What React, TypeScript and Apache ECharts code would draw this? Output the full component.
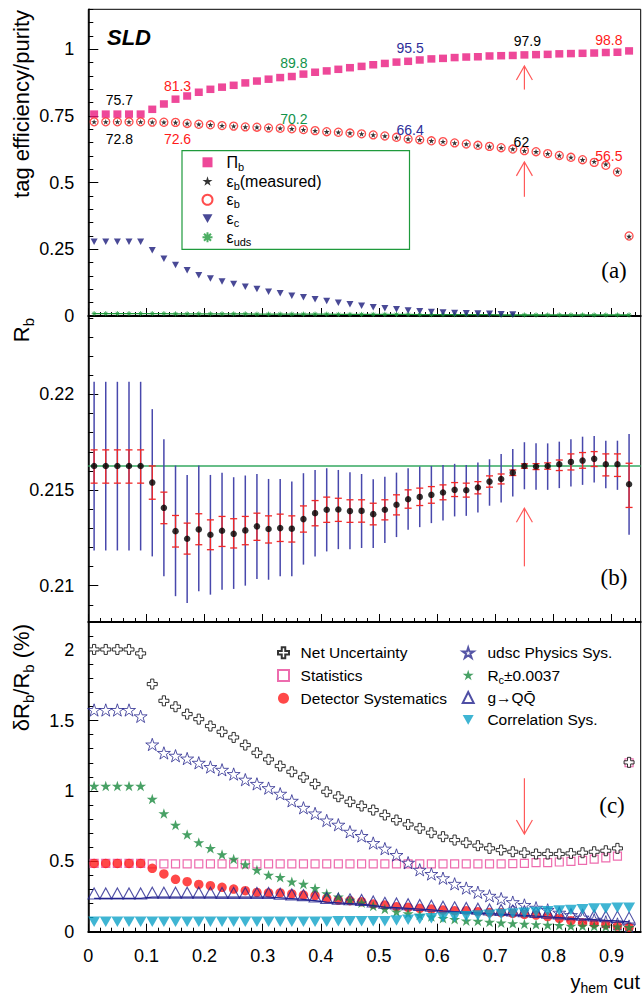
import React, { useEffect, useRef } from 'react';
import * as echarts from 'echarts';

// ---------- data ----------
const yhemCuts = [0.01,0.03,0.05,0.07,0.09,0.11,0.13,0.15,0.17,0.19,0.21,0.23,0.25,0.27,0.29,0.31,0.33,0.35,0.37,0.39,0.41,0.43,0.45,0.47,0.49,0.51,0.53,0.55,0.57,0.59,0.61,0.63,0.65,0.67,0.69,0.71,0.73,0.75,0.77,0.79,0.81,0.83,0.85,0.87,0.89,0.91,0.93];

// panel (a)
const purity = [0.757,0.757,0.757,0.757,0.757,0.775,0.795,0.813,0.825,0.839,0.850,0.858,0.865,0.874,0.881,0.888,0.894,0.898,0.907,0.914,0.919,0.925,0.931,0.936,0.942,0.947,0.952,0.955,0.960,0.964,0.966,0.969,0.971,0.972,0.975,0.976,0.977,0.979,0.980,0.981,0.983,0.984,0.985,0.986,0.988,0.989,0.994];
const effB = [0.728,0.728,0.728,0.728,0.728,0.727,0.7265,0.726,0.722,0.719,0.717,0.714,0.712,0.709,0.708,0.705,0.704,0.702,0.699,0.695,0.691,0.689,0.686,0.683,0.679,0.675,0.670,0.664,0.661,0.657,0.654,0.649,0.645,0.640,0.636,0.631,0.626,0.620,0.616,0.609,0.602,0.595,0.586,0.576,0.565,0.540,0.300];
const effBMeas = [0.728,0.728,0.728,0.728,0.728,0.727,0.7265,0.726,0.722,0.719,0.717,0.714,0.712,0.709,0.708,0.705,0.704,0.702,0.699,0.695,0.691,0.689,0.686,0.683,0.679,0.675,0.670,0.664,0.661,0.657,0.654,0.649,0.645,0.640,0.636,0.631,0.626,0.620,0.616,0.609,0.602,0.595,0.586,0.579,0.569,0.542,0.298];
const effC = [0.278,0.278,0.278,0.278,0.278,0.247,0.215,0.191,0.172,0.153,0.141,0.129,0.120,0.110,0.101,0.091,0.085,0.076,0.070,0.063,0.056,0.050,0.044,0.038,0.033,0.029,0.025,0.021,0.018,0.015,0.013,0.011,0.010,0.009,0.008,0.007,0.006];
const effUds = [0.009,0.009,0.009,0.009,0.009,0.009,0.009,0.008,0.008,0.008,0.008,0.008,0.008,0.008,0.007,0.007,0.007,0.007,0.007,0.007,0.007,0.006,0.006,0.006,0.006,0.006,0.006,0.006,0.005,0.005,0.005,0.005,0.005,0.005,0.005,0.004,0.004,0.004,0.004,0.004,0.004,0.004,0.004,0.004,0.004,0.004,0.004];
const annotIdx = [2, 7, 17, 27, 37, 44];
const purityLabels = ['75.7', '81.3', '89.8', '95.5', '97.9', '98.8'];
const effBLabels = ['72.8', '72.6', '70.2', '66.4', '62', '56.5'];

// panel (b)
const rbValue = [0.21626,0.21626,0.21626,0.21626,0.21626,0.21539,0.21407,0.21285,0.21245,0.21294,0.21266,0.21287,0.21271,0.21289,0.2131,0.21296,0.21301,0.21298,0.21348,0.21379,0.21397,0.21398,0.2139,0.21391,0.21374,0.21397,0.21423,0.21452,0.21464,0.21475,0.21487,0.21501,0.21499,0.21513,0.21544,0.21558,0.21591,0.21626,0.21623,0.21626,0.21635,0.21647,0.21654,0.21663,0.21635,0.21635,0.2153];
const rbStatHi = [0.2171,0.2171,0.2171,0.2171,0.2171,0.21626,0.21489,0.21367,0.21327,0.21376,0.21344,0.21362,0.2135,0.21362,0.21379,0.21365,0.21374,0.21365,0.21417,0.21445,0.21463,0.21457,0.21449,0.21449,0.21431,0.21449,0.21475,0.21501,0.2151,0.21518,0.21527,0.21539,0.21536,0.21544,0.21574,0.21584,0.21605,0.21637,0.21638,0.21642,0.21657,0.21689,0.21696,0.21701,0.21689,0.21689,0.2164];
const rbStatLo = [0.21536,0.21536,0.21536,0.21536,0.21536,0.21452,0.21324,0.21202,0.21165,0.21214,0.21188,0.21205,0.21197,0.21214,0.21237,0.21223,0.21231,0.21228,0.2128,0.21313,0.21331,0.21336,0.21331,0.21332,0.21318,0.21344,0.2137,0.21405,0.21419,0.21431,0.21449,0.21466,0.21463,0.2148,0.21515,0.21532,0.21576,0.21614,0.21607,0.21609,0.21602,0.21605,0.21614,0.21623,0.21574,0.21571,0.21409];
const rbTotHi = [0.22066,0.22066,0.22066,0.22066,0.22066,0.21923,0.21765,0.21628,0.21579,0.21628,0.21579,0.21591,0.21567,0.21576,0.21584,0.21558,0.21558,0.21544,0.21588,0.21605,0.21614,0.21605,0.21593,0.21584,0.21557,0.2157,0.21591,0.21614,0.21623,0.21626,0.21631,0.21637,0.21631,0.21644,0.21661,0.21689,0.21715,0.2175,0.21744,0.21744,0.21753,0.21765,0.21779,0.21783,0.21758,0.21758,0.21793];
const rbTotLo = [0.21184,0.21184,0.21184,0.21184,0.21184,0.21153,0.21049,0.20945,0.2091,0.20971,0.20953,0.20979,0.20983,0.21,0.21035,0.21031,0.21049,0.21049,0.2111,0.21153,0.21179,0.21191,0.21191,0.21197,0.21197,0.21223,0.21254,0.21292,0.21306,0.21327,0.21341,0.21362,0.21365,0.21383,0.21418,0.21435,0.21466,0.21504,0.21501,0.21501,0.2151,0.21518,0.21527,0.21539,0.2151,0.21501,0.21266];
const rbReferenceX = [0, 0.95];
const rbReferenceY = [0.21626, 0.21626];

// panel (c)
const netUnc = [2.005,2.005,2.005,2.005,1.977,1.759,1.64,1.598,1.546,1.51,1.461,1.42,1.38,1.326,1.271,1.224,1.177,1.136,1.096,1.049,0.994,0.959,0.923,0.893,0.864,0.829,0.793,0.762,0.734,0.703,0.675,0.651,0.632,0.611,0.592,0.58,0.568,0.561,0.552,0.552,0.552,0.556,0.561,0.568,0.575,0.592,1.203];
const statErr = [0.485,0.485,0.485,0.485,0.485,0.482,0.482,0.482,0.482,0.482,0.482,0.482,0.482,0.482,0.482,0.482,0.482,0.482,0.482,0.482,0.482,0.482,0.482,0.482,0.482,0.482,0.482,0.482,0.482,0.482,0.482,0.482,0.482,0.482,0.482,0.482,0.483,0.485,0.49,0.49,0.495,0.5,0.507,0.515,0.525,0.537,1.2];
const detSys = [0.485,0.485,0.485,0.485,0.485,0.45,0.41,0.372,0.355,0.336,0.327,0.315,0.303,0.291,0.279,0.275,0.275,0.268,0.26,0.256,0.237,0.225,0.22,0.213,0.196,0.189,0.178,0.173,0.166,0.161,0.154,0.149,0.149,0.142,0.137,0.135,0.13,0.123,0.118,0.107,0.095,0.078,0.064,0.059,0.052,0.04,0.031];
const rcSys = [1.035,1.035,1.035,1.035,1.035,0.942,0.84,0.758,0.691,0.634,0.592,0.549,0.516,0.478,0.438,0.402,0.386,0.355,0.339,0.308,0.272,0.249,0.225,0.206,0.182,0.161,0.142,0.13,0.118,0.107,0.095,0.088,0.078,0.076,0.069,0.064,0.059,0.054,0.052,0.047,0.045,0.04,0.04,0.038,0.036,0.036,0.031];
const udscSys = [1.575,1.575,1.575,1.575,1.53,1.33,1.27,1.25,1.23,1.2,1.17,1.15,1.12,1.08,1.05,1.02,0.98,0.93,0.88,0.84,0.79,0.76,0.71,0.68,0.63,0.59,0.545,0.49,0.44,0.41,0.38,0.34,0.31,0.28,0.255,0.235,0.21,0.19,0.17,0.155,0.135,0.118,0.1,0.085,0.07,0.055,0.04];
const gqqSys = [0.272,0.272,0.272,0.272,0.272,0.277,0.277,0.277,0.277,0.277,0.277,0.275,0.275,0.275,0.275,0.275,0.27,0.265,0.26,0.25,0.24,0.235,0.23,0.225,0.215,0.205,0.2,0.195,0.19,0.185,0.178,0.173,0.168,0.163,0.158,0.154,0.15,0.145,0.14,0.135,0.13,0.125,0.12,0.115,0.11,0.107,0.1];
const gqqLine = [0.237,0.237,0.237,0.237,0.237,0.245,0.245,0.245,0.245,0.245,0.245,0.245,0.245,0.245,0.245,0.245,0.24,0.235,0.23,0.22,0.21,0.205,0.2,0.195,0.185,0.175,0.17,0.165,0.16,0.155,0.148,0.143,0.138,0.133,0.128,0.124,0.12,0.115,0.11,0.105,0.1,0.095,0.09,0.085,0.08,0.077,0.07];
const corrSys = [0.07,0.07,0.07,0.07,0.07,0.07,0.07,0.07,0.07,0.07,0.07,0.07,0.07,0.07,0.07,0.07,0.07,0.07,0.07,0.07,0.07,0.075,0.075,0.075,0.075,0.075,0.08,0.085,0.09,0.095,0.1,0.105,0.11,0.115,0.12,0.125,0.13,0.135,0.14,0.145,0.15,0.155,0.16,0.165,0.165,0.17,0.17];

// arrows: [x, tail, tip]
const arrowsA = [[0.75, 0.849, 0.9375], [0.75, 0.447, 0.578]];
const arrowsB = [[0.75, 0.21101, 0.21405]];
const arrowsC = [[0.75, 1.09, 0.694]];

// tick labels
const xMajor = [0, 0.1, 0.2, 0.3, 0.4, 0.5, 0.6, 0.7, 0.8, 0.9];
const yMajorA = [0, 0.25, 0.5, 0.75, 1];
const yMajorB = [0.21, 0.215, 0.22];
const yMajorC = [0, 0.5, 1, 1.5, 2];

// ---------- styling ----------
const F = '"Liberation Sans", Arial, Helvetica, sans-serif';
const FS = '"Liberation Serif", "Times New Roman", serif';
const SYM_CROSS = 'path://M3.4,0L6.6,0L6.6,3.4L10,3.4L10,6.6L6.6,6.6L6.6,10L3.4,10L3.4,6.6L0,6.6L0,3.4L3.4,3.4Z';
const SYM_STAR = 'path://M50,0L61.2,34.5L97.6,34.5L68.2,55.9L79.4,90.5L50,69.1L20.6,90.5L31.8,55.9L2.4,34.5L38.8,34.5Z';
const SYM_AST = 'path://M5,0L5,10M0,5L10,5M1.5,1.5L8.5,8.5M8.5,1.5L1.5,8.5';
const SYM_DOWN = 'path://M0,0L10,0L5,8.7Z';
const labelColors = ['#000', '#ff1a1a', '#12934a', '#2e2e9a', '#000', '#ff1a1a'];
const purityOffsets = [[2, -14], [2, -13], [2, -14], [2, -13], [3, -14], [3, -13]];
const effBOffsets = [[2, 17], [2, 17], [2, -10], [2, -9], [-3, -9], [3, -9]];

const ticks = (a: number, b: number, step: number) => {
  const r: number[] = [];
  for (let k = 0; a + k * step <= b + 1e-9; k++) r.push(+(a + k * step).toFixed(5));
  return r;
};

const GRID_L = 88.3;
const GRID_W = 552.4;

function xAxes(gridIndex: number, showLabels: boolean) {
  return [
    {
      type: 'value', gridIndex, min: 0, max: 0.95, position: 'bottom',
      axisLine: { show: true, onZero: false, lineStyle: { color: '#000', width: 2 } },
      axisTick: { show: true, inside: true, length: 8, customValues: xMajor, lineStyle: { color: '#000', width: 1 } },
      axisLabel: { show: showLabels, customValues: xMajor, fontFamily: F, fontSize: 18, color: '#000', margin: 15,
        formatter: (v: number) => String(+(+v).toFixed(4)) },
      splitLine: { show: false },
    },
    {
      type: 'value', gridIndex, min: 0, max: 0.95, position: 'bottom',
      axisLine: { show: false },
      axisTick: { show: true, inside: true, length: 4, customValues: ticks(0, 0.94, 0.02), lineStyle: { color: '#000', width: 1 } },
      axisLabel: { show: false },
      splitLine: { show: false },
    },
  ];
}
function yAxes(gridIndex: number, min: number, max: number, major: number[], minor: number[]) {
  return [
    {
      type: 'value', gridIndex, min, max, position: 'left',
      axisLine: { show: true, onZero: false, lineStyle: { color: '#000', width: 1.5 } },
      axisTick: { show: true, inside: true, length: 10, customValues: major, lineStyle: { color: '#000', width: 1 } },
      axisLabel: { show: true, customValues: major, fontFamily: F, fontSize: 18, color: '#000', margin: 14,
        formatter: (v: number) => String(+(+v).toFixed(4)) },
      splitLine: { show: false },
    },
    {
      type: 'value', gridIndex, min, max, position: 'left',
      axisLine: { show: false },
      axisTick: { show: true, inside: true, length: 5, customValues: minor, lineStyle: { color: '#000', width: 1 } },
      axisLabel: { show: false },
      splitLine: { show: false },
    },
  ];
}

const xy = (ys: number[]) => ys.map((y, i) => [yhemCuts[i], y]);

const renderArrow = (_p: any, api: any) => {
  const p0 = api.coord([api.value(0), api.value(1)]);
  const p1 = api.coord([api.value(0), api.value(2)]);
  const dir = p1[1] < p0[1] ? 1 : -1;
  const hx = 8, hy = 14;
  const st = { stroke: '#ff5a5a', lineWidth: 1.2, fill: 'none' };
  return {
    type: 'group',
    children: [
      { type: 'line', shape: { x1: p0[0], y1: p0[1], x2: p1[0], y2: p1[1] }, style: st },
      { type: 'polyline', shape: { points: [[p1[0] - hx, p1[1] + dir * hy], [p1[0], p1[1]], [p1[0] + hx, p1[1] + dir * hy]] }, style: st },
    ],
  };
};
const renderTot = (_p: any, api: any) => {
  const a = api.coord([api.value(0), api.value(1)]);
  const b = api.coord([api.value(0), api.value(2)]);
  return { type: 'line', shape: { x1: a[0], y1: a[1], x2: b[0], y2: b[1] }, style: { stroke: '#4848ac', lineWidth: 1.5 } };
};
const renderStat = (_p: any, api: any) => {
  const a = api.coord([api.value(0), api.value(1)]);
  const b = api.coord([api.value(0), api.value(2)]);
  const st = { stroke: '#f02828', lineWidth: 1.3 };
  const c = 3.5;
  return {
    type: 'group',
    children: [
      { type: 'line', shape: { x1: a[0], y1: a[1], x2: b[0], y2: b[1] }, style: st },
      { type: 'line', shape: { x1: a[0] - c, y1: a[1], x2: a[0] + c, y2: a[1] }, style: st },
      { type: 'line', shape: { x1: b[0] - c, y1: b[1], x2: b[0] + c, y2: b[1] }, style: st },
    ],
  };
};

const legendNames: Record<string, string> = {
  purity: '{sp| }{g|Π}{s|b}',
  effBMeas: '{sp| }{g|ε}{s|b}{n|(measured)}',
  effB: '{sp| }{g|ε}{s|b}',
  effC: '{sp| }{g|ε}{s|c}',
  effUds: '{sp| }{g|ε}{s|uds}',
  netUnc: '{sp| }{n|Net Uncertainty}',
  statErr: '{sp| }{n|Statistics}',
  detSys: '{sp| }{n|Detector Systematics}',
  udscSys: '{sp| }{n|udsc Physics Sys.}',
  rcSys: '{sp| }{n|R}{s|c}{n|±0.0037}',
  gqqSys: '{sp| }{n|g→QQ̄}',
  corrSys: '{sp| }{n|Correlation Sys.}',
};
const legendRich = (fs: number, sp: number) => ({
  sp: { width: sp, fontSize: fs, lineHeight: 20 },
  g: { fontSize: fs, fontFamily: F, color: '#000', lineHeight: 20, verticalAlign: 'middle' },
  n: { fontSize: fs, fontFamily: F, color: '#000', lineHeight: 20, verticalAlign: 'middle' },
  s: { fontSize: 11, fontFamily: F, color: '#000', lineHeight: 11, verticalAlign: 'bottom' },
});

const titleRich = {
  n: { fontSize: 22, fontFamily: F, fill: '#000', lineHeight: 30, verticalAlign: 'middle' },
  s: { fontSize: 15, fontFamily: F, fill: '#000', lineHeight: 15, verticalAlign: 'bottom' },
};
const xTitleRich = {
  n: { fontSize: 20, fontFamily: F, fill: '#000', lineHeight: 26, verticalAlign: 'middle' },
  s: { fontSize: 14, fontFamily: F, fill: '#000', lineHeight: 14, verticalAlign: 'bottom' },
};

function buildOption() {
  const annotData = [
    ...annotIdx.map((k, j) => ({
      value: [yhemCuts[k], purity[k]], name: purityLabels[j],
      label: { color: labelColors[j], offset: purityOffsets[j] },
    })),
    ...annotIdx.map((k, j) => ({
      value: [yhemCuts[k], effB[k]], name: effBLabels[j],
      label: { color: labelColors[j], offset: effBOffsets[j] },
    })),
  ];
  return {
    animation: false,
    grid: [
      { left: GRID_L, top: 9.3, width: GRID_W, height: 306.7, show: true, borderColor: '#000', borderWidth: 1 },
      { left: GRID_L, top: 316, width: GRID_W, height: 306, show: true, borderColor: '#000', borderWidth: 1 },
      { left: GRID_L, top: 622, width: GRID_W, height: 309.7, show: true, borderColor: '#000', borderWidth: 1 },
    ],
    xAxis: [...xAxes(0, false), ...xAxes(1, false), ...xAxes(2, true)],
    yAxis: [
      ...yAxes(0, 0, 1.15, yMajorA, ticks(0, 1.15, 0.05)),
      ...yAxes(1, 0.2081, 0.2241, yMajorB, ticks(0.209, 0.224, 0.001)),
      ...yAxes(2, 0, 2.2, yMajorC, ticks(0, 2.2, 0.1)),
    ],
    legend: [
      {
        data: ['purity', 'effBMeas', 'effB', 'effC', 'effUds'], orient: 'vertical',
        left: 200, top: 152.3, itemWidth: 10, itemHeight: 10, itemGap: -1.25, padding: 0,
        selectedMode: false, formatter: (n: string) => legendNames[n],
        textStyle: { rich: legendRich(16, 9), fontSize: 16, lineHeight: 20 },
      },
      {
        data: ['netUnc', 'statErr', 'detSys'], orient: 'vertical',
        left: 275.5, top: 642.7, itemWidth: 11, itemHeight: 11, itemGap: 2.8, padding: 0,
        selectedMode: false, formatter: (n: string) => legendNames[n],
        textStyle: { rich: legendRich(15.5, 6.6), fontSize: 15.5, lineHeight: 20 },
      },
      {
        data: ['udscSys', 'rcSys', 'gqqSys', 'corrSys'], orient: 'vertical',
        left: 460.2, top: 642.7, itemWidth: 11, itemHeight: 11, itemGap: 2.4, padding: 0,
        selectedMode: false, formatter: (n: string) => legendNames[n],
        textStyle: { rich: legendRich(15.5, 8.7), fontSize: 15.5, lineHeight: 20 },
      },
    ],
    graphic: [
      { type: 'rect', z: 3, shape: { x: 182, y: 150.7, width: 227.5, height: 98.6 }, style: { fill: 'none', stroke: '#1f9a3c', lineWidth: 1.2 } },
      { type: 'text', x: 107, y: 37, style: { text: 'SLD', fontFamily: F, fontSize: 22, fontWeight: 'bold', fontStyle: 'italic', fill: '#000', verticalAlign: 'middle' } },
      { type: 'text', x: 614, y: 270, style: { text: '(a)', fontFamily: FS, fontSize: 23, fill: '#000', align: 'center', verticalAlign: 'middle' } },
      { type: 'text', x: 614, y: 577, style: { text: '(b)', fontFamily: FS, fontSize: 23, fill: '#000', align: 'center', verticalAlign: 'middle' } },
      { type: 'text', x: 612, y: 805, style: { text: '(c)', fontFamily: FS, fontSize: 23, fill: '#000', align: 'center', verticalAlign: 'middle' } },
      { type: 'text', x: 21.5, y: 10, rotation: Math.PI / 2, style: { text: 'tag efficiency/purity', fontFamily: F, fontSize: 22, fill: '#000', align: 'right', verticalAlign: 'middle' } },
      { type: 'text', x: 21, y: 318, rotation: Math.PI / 2, style: { text: '{n|R}{s|b}', rich: titleRich, align: 'right', verticalAlign: 'middle' } },
      { type: 'text', x: 21, y: 624, rotation: Math.PI / 2, style: { text: '{n|δR}{s|b}{n|/R}{s|b}{n| (%)}', rich: titleRich, align: 'right', verticalAlign: 'middle' } },
      { type: 'text', x: 640, y: 982, style: { text: '{n|y}{s|hem}{n| cut}', rich: xTitleRich, align: 'right', verticalAlign: 'middle' } },
    ],
    series: [
      // ---- panel (a)
      { name: 'effUdsLine', type: 'line', xAxisIndex: 0, yAxisIndex: 0, data: xy(effUds), symbol: 'none', silent: true,
        lineStyle: { color: '#1f9a3c', width: 1.4 }, z: 2 },
      { name: 'effUds', type: 'scatter', xAxisIndex: 0, yAxisIndex: 0, data: xy(effUds), symbol: SYM_AST, symbolSize: 5,
        itemStyle: { color: 'none', borderColor: '#1f9a3c', borderWidth: 1 }, z: 2 },
      { name: 'effC', type: 'scatter', xAxisIndex: 0, yAxisIndex: 0, data: xy(effC), symbol: SYM_DOWN, symbolSize: [7, 6.5],
        itemStyle: { color: '#1c1c7c' }, z: 3 },
      { name: 'purity', type: 'scatter', xAxisIndex: 0, yAxisIndex: 0, data: xy(purity), symbol: 'rect', symbolSize: [8, 7.5],
        itemStyle: { color: '#ea1a7f' }, z: 3 },
      { name: 'effB', type: 'scatter', xAxisIndex: 0, yAxisIndex: 0, data: xy(effB), symbol: 'circle', symbolSize: 8,
        itemStyle: { color: 'none', borderColor: '#ff2020', borderWidth: 1.3 }, z: 3 },
      { name: 'effBMeas', type: 'scatter', xAxisIndex: 0, yAxisIndex: 0, data: xy(effBMeas), symbol: SYM_STAR, symbolSize: 6, symbolKeepAspect: true,
        itemStyle: { color: '#000' }, z: 4 },
      { name: 'annot', type: 'scatter', xAxisIndex: 0, yAxisIndex: 0, data: annotData, symbol: 'circle', symbolSize: 1, silent: true,
        itemStyle: { opacity: 0 }, z: 5,
        label: { show: true, position: 'inside', formatter: '{b}', fontFamily: F, fontSize: 14, opacity: 1,
          textBorderWidth: 0, textBorderColor: 'transparent', textShadowBlur: 0 } },
      { name: 'arrowA', type: 'custom', xAxisIndex: 0, yAxisIndex: 0, data: arrowsA, renderItem: renderArrow, silent: true, z: 4,
        encode: { x: 0, y: [1, 2] } },
      // ---- panel (b)
      { name: 'rbRef', type: 'line', xAxisIndex: 2, yAxisIndex: 2, data: rbReferenceX.map((x, i) => [x, rbReferenceY[i]]),
        symbol: 'none', silent: true, lineStyle: { color: '#35a860', width: 1.6 }, z: 1 },
      { name: 'rbTot', type: 'custom', xAxisIndex: 2, yAxisIndex: 2, data: yhemCuts.map((x, i) => [x, rbTotLo[i], rbTotHi[i]]),
        renderItem: renderTot, silent: true, z: 2, encode: { x: 0, y: [1, 2] } },
      { name: 'rbStat', type: 'custom', xAxisIndex: 2, yAxisIndex: 2, data: yhemCuts.map((x, i) => [x, rbStatLo[i], rbStatHi[i]]),
        renderItem: renderStat, silent: true, z: 3, encode: { x: 0, y: [1, 2] } },
      { name: 'rb', type: 'scatter', xAxisIndex: 2, yAxisIndex: 2, data: xy(rbValue), symbol: 'circle', symbolSize: 6.5,
        itemStyle: { color: '#000' }, z: 4 },
      { name: 'arrowB', type: 'custom', xAxisIndex: 2, yAxisIndex: 2, data: arrowsB, renderItem: renderArrow, silent: true, z: 4,
        encode: { x: 0, y: [1, 2] } },
      // ---- panel (c)
      { name: 'statErr', type: 'scatter', xAxisIndex: 4, yAxisIndex: 4, data: xy(statErr), symbol: 'rect', symbolSize: 8,
        itemStyle: { color: 'none', borderColor: '#e8479a', borderWidth: 1.2 }, z: 2 },
      { name: 'netUnc', type: 'scatter', xAxisIndex: 4, yAxisIndex: 4, data: xy(netUnc), symbol: SYM_CROSS, symbolSize: 10,
        itemStyle: { color: '#fff', borderColor: '#000', borderWidth: 1 }, z: 3 },
      { name: 'udscSys', type: 'scatter', xAxisIndex: 4, yAxisIndex: 4, data: xy(udscSys), symbol: SYM_STAR, symbolSize: 13, symbolKeepAspect: true,
        itemStyle: { color: 'none', borderColor: '#2a2a90', borderWidth: 1 }, z: 3 },
      { name: 'detSys', type: 'scatter', xAxisIndex: 4, yAxisIndex: 4, data: xy(detSys), symbol: 'circle', symbolSize: 9.5,
        itemStyle: { color: '#ff1a1a' }, z: 3 },
      { name: 'rcSys', type: 'scatter', xAxisIndex: 4, yAxisIndex: 4, data: xy(rcSys), symbol: SYM_STAR, symbolSize: 11, symbolKeepAspect: true,
        itemStyle: { color: '#1a8a3e' }, z: 3 },
      { name: 'gqqLine', type: 'line', xAxisIndex: 4, yAxisIndex: 4, data: xy(gqqLine), symbol: 'none', silent: true,
        lineStyle: { color: '#23238f', width: 1.3 }, z: 4 },
      { name: 'gqqSys', type: 'scatter', xAxisIndex: 4, yAxisIndex: 4, data: xy(gqqSys), symbol: 'triangle', symbolSize: [12, 11],
        itemStyle: { color: 'none', borderColor: '#23238f', borderWidth: 1.1 }, z: 4 },
      { name: 'corrSys', type: 'scatter', xAxisIndex: 4, yAxisIndex: 4, data: xy(corrSys), symbol: SYM_DOWN, symbolSize: [12, 10.5],
        itemStyle: { color: '#0fa2c8' }, z: 4 },
      { name: 'arrowC', type: 'custom', xAxisIndex: 4, yAxisIndex: 4, data: arrowsC, renderItem: renderArrow, silent: true, z: 5,
        encode: { x: 0, y: [1, 2] } },
    ],
  };
}

export default function App() {
  const ref = useRef<HTMLDivElement>(null);
  useEffect(() => {
    if (!ref.current) return;
    const chart = echarts.init(ref.current, null, { renderer: 'svg' });
    chart.setOption(buildOption() as any);
    return () => chart.dispose();
  }, []);
  return <div ref={ref} style={{ position: 'absolute', left: 0, top: 0, width: 642, height: 998, background: '#fff' }} />;
}
